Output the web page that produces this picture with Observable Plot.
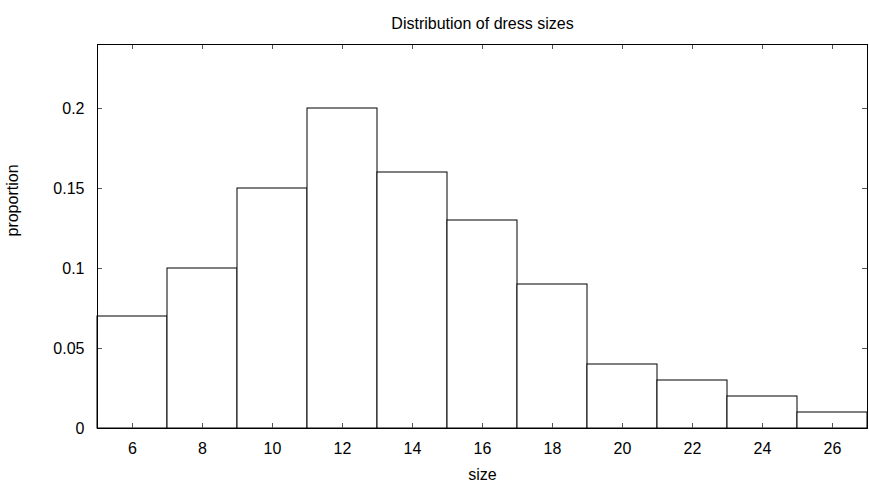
<!DOCTYPE html>
<html>
<head>
<meta charset="utf-8">
<script src="https://cdn.jsdelivr.net/npm/d3@7"></script>
<script src="https://cdn.jsdelivr.net/npm/@observablehq/plot@0.6"></script>
<style>
  html, body { margin: 0; padding: 0; background: #fff; }
  svg { display: block; }
</style>
</head>
<body>
<div id="chart"></div>
<script>
// Dress size bins (centres) and the proportion of dresses in each
const sizes = [6, 8, 10, 12, 14, 16, 18, 20, 22, 24, 26];
const proportions = [0.07, 0.10, 0.15, 0.20, 0.16, 0.13, 0.09, 0.04, 0.03, 0.02, 0.01];
const yTicks = [0, 0.05, 0.1, 0.15, 0.2];
const yTickLabels = ["0", "0.05", "0.1", "0.15", "0.2"];

const title = "Distribution of dress sizes";
const xLabel = "size";
const yLabel = "proportion";

const bins = sizes.map((s, i) => ({size: s, x1: s - 1, x2: s + 1, p: proportions[i]}));

const W = 869, H = 488;
const mL = 97, mR = 2, mT = 44, mB = 60;
const frameW = W - mL - mR, frameH = H - mT - mB;
const tickLen = 5;
const font = "'Liberation Sans', Arial, Helvetica, sans-serif";
const fs = 16;

const chart = Plot.plot({
  width: W,
  height: H,
  marginLeft: mL,
  marginRight: mR,
  marginTop: mT,
  marginBottom: mB,
  style: {fontFamily: font, fontSize: fs + "px", color: "#000", background: "#fff"},
  x: {domain: [5, 27]},
  y: {domain: [0, 0.24]},
  marks: [
    // histogram bars
    Plot.rectY(bins, {x1: "x1", x2: "x2", y: "p", fill: "white", stroke: "black", strokeWidth: 1}),
    // inward tick marks on all four sides
    Plot.tickX(sizes, {x: d => d, insetTop: frameH - tickLen, stroke: "#555"}),
    Plot.tickX(sizes, {x: d => d, insetBottom: frameH - tickLen, stroke: "#555"}),
    Plot.tickY(yTicks, {y: d => d, insetRight: frameW - tickLen, stroke: "#555"}),
    Plot.tickY(yTicks, {y: d => d, insetLeft: frameW - tickLen, stroke: "#555"}),
    // tick labels
    Plot.axisX({ticks: sizes, tickSize: 0, tickPadding: 14, label: null, fontSize: fs}),
    Plot.axisY({ticks: yTicks, tickSize: 0, tickPadding: 13, label: null, fontSize: fs,
                tickFormat: d => yTickLabels[yTicks.indexOf(d)]}),
    Plot.frame({stroke: "black", strokeWidth: 1}),
    // title and axis labels
    Plot.text([title], {frameAnchor: "top", dy: -27, fontSize: fs, fill: "black"}),
    Plot.text([xLabel], {frameAnchor: "bottom", dy: 51, fontSize: fs, fill: "black"}),
    Plot.text([yLabel], {frameAnchor: "left", dx: -85, rotate: -90, fontSize: fs, fill: "black"})
  ]
});

document.getElementById("chart").appendChild(chart);
</script>
</body>
</html>
